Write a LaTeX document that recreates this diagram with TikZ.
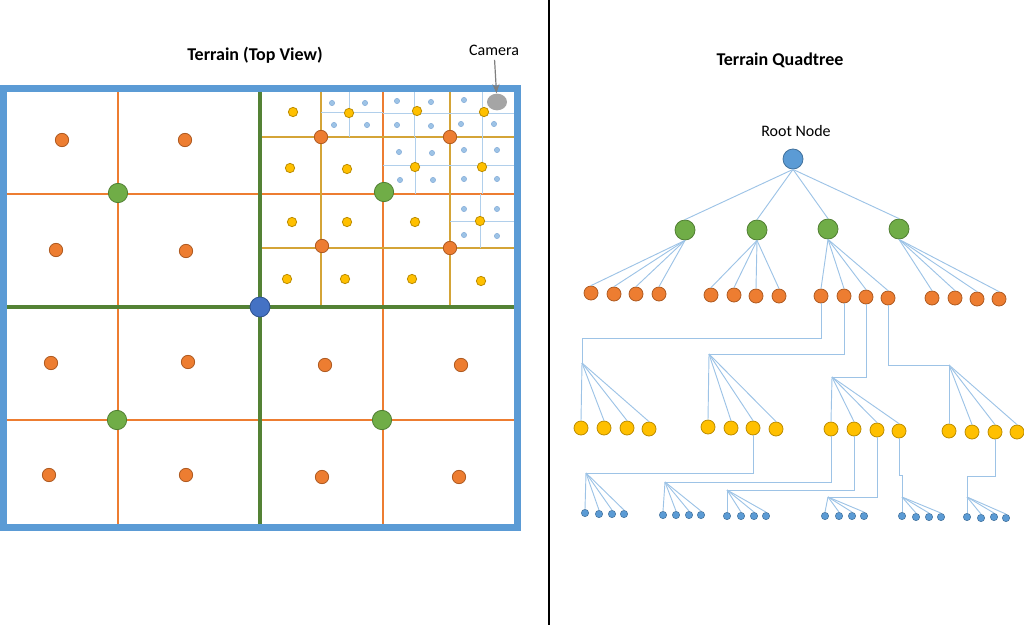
\documentclass[tikz,border=0pt]{standalone}
\usepackage{fontspec}
\setmainfont{Carlito}
\usetikzlibrary{
    arrows.meta,
    positioning,
    shapes.geometric
}
\definecolor{edgeblue}{HTML}{5B9BD5}
\definecolor{rootblue}{HTML}{5B9BD5}
\definecolor{rootline}{HTML}{41719C}
\definecolor{centreblue}{HTML}{4472C4}
\definecolor{centreline}{HTML}{2F528F}
\definecolor{leafgreen}{HTML}{70AD47}
\definecolor{leafline}{HTML}{507E32}
\definecolor{splitgreen}{HTML}{548235}
\definecolor{chunkorange}{HTML}{ED7D31}
\definecolor{chunkline}{HTML}{AE5A21}
\definecolor{tileyellow}{HTML}{FFC000}
\definecolor{tileline}{HTML}{BC8C00}
\definecolor{gridyellow}{HTML}{D4A437}
\definecolor{paleblue}{HTML}{9DC3E6}
\definecolor{paleline}{HTML}{7FA8D6}
\definecolor{camgrey}{HTML}{A5A5A5}
\definecolor{camline}{HTML}{7F7F7F}
\tikzset{
    every picture/.style = {
        > = Stealth
    },
    dot/.style = {
        circle,
        inner sep = 0pt,
        line width = 0.6pt
    },
    rootdot/.style    = {dot, fill = rootblue, draw = rootline, minimum size = 15pt},
    centredot/.style  = {dot, fill = centreblue, draw = centreline, minimum size = 15pt},
    greendot/.style   = {dot, fill = leafgreen, draw = leafline, minimum size = #1},
    greendot/.default = 14.5pt,
    orangedot/.style  = {dot, fill = chunkorange, draw = chunkline, minimum size = #1},
    orangedot/.default = 10pt,
    yellowdot/.style  = {dot, fill = tileyellow, draw = tileline, minimum size = #1},
    yellowdot/.default = 7pt,
    smalldot/.style   = {dot, fill = paleblue, draw = paleline, line width = 0.3pt, minimum size = 4pt},
    leafdot/.style    = {dot, fill = rootblue, draw = rootline, line width = 0.4pt, minimum size = 5.5pt},
    title/.style = {font = \bfseries\fontsize{13.5}{16}\selectfont},
    label text/.style = {font = \fontsize{12}{14}\selectfont},
    treeedge/.style = {draw = paleblue, line width = 0.7pt},
    orangeline/.style = {draw = chunkorange, line width = 1.1pt},
    yellowline/.style = {draw = gridyellow, line width = 0.9pt},
    paleline/.style = {draw = paleblue!80, line width = 0.75pt}
}

\begin{document}
\begin{tikzpicture}[x = 0.75pt, y = -0.75pt]
    \useasboundingbox (0,0) rectangle (1024,625);

    % terrain, top view
    \node[title] (terraintitle) at (255,55) {Terrain (Top View)};
    \draw[orangeline] (4,194) -- (517,194);
    \draw[orangeline] (4,420) -- (517,420);
    \draw[orangeline] (118,89) -- (118,527);
    \draw[orangeline] (383,89) -- (383,527);
    \draw[yellowline] (321,89) -- (321,307);
    \draw[yellowline] (450,89) -- (450,307);
    \draw[yellowline] (260,137) -- (517,137);
    \draw[yellowline] (260,248) -- (517,248);
    \draw[paleline] (321,112) -- (383,112);
    \draw[paleline] (349,89) -- (349,137);
    \draw[paleline] (383,113) -- (517,113);
    \draw[paleline] (414,89) -- (414,137);
    \draw[paleline] (482,89) -- (482,137);
    \draw[paleline] (383,165) -- (517,165);
    \draw[paleline] (415,137) -- (415,194);
    \draw[paleline] (482,137) -- (482,194);
    \draw[paleline] (450,221) -- (517,221);
    \draw[paleline] (480,194) -- (480,248);
    \draw[draw = splitgreen, line width = 3pt] (4,307) -- (517,307);
    \draw[draw = splitgreen, line width = 3pt] (260,89) -- (260,527);
    \draw[draw = edgeblue, line width = 5.25pt] (3.5,88.5) rectangle (517,527.5);

    \foreach \x/\y [count = \i] in {332/103, 365/103, 334/125, 367/125,
        397/101, 431/102, 397/125, 431/126, 464/100, 461/124, 494/124,
        399/152, 432/153, 400/180, 433/180, 464/150, 497/150, 464/179, 497/179,
        464/209, 497/209, 464/235, 497/236}
        \node[smalldot] (s\i) at (\x,\y) {};
    \foreach \x/\y [count = \i] in {293/112, 349/113, 417/111, 484/112,
        290/168, 347/169, 415/167, 482/167, 292/222, 347/222, 415/222, 480/221,
        287/279, 345/279, 412/279, 481/281}
        \node[yellowdot] (t\i) at (\x,\y) {};
    \foreach \x/\y [count = \i] in {62/140, 185/140, 56/250, 186/251,
        51/363, 188/362, 325/365, 461/365, 49/475, 186/475, 322/477, 459/477,
        321/137, 450/137, 322/246, 450/248}
        \node[orangedot] (c\i) at (\x,\y) {};
    \node[greendot] (q1) at (118,193) {};
    \node[greendot] (q2) at (384,192) {};
    \node[greendot] (q3) at (117,420) {};
    \node[greendot] (q4) at (382,420) {};
    \node[centredot] (centre) at (260,307) {};

    % camera
    \node[ellipse, fill = camgrey, minimum width = 15pt, minimum height = 12.5pt,
        inner sep = 0pt] (camera) at (497,102) {};
    \node[label text] (cameralabel) at (494,50) {Camera};
    \draw[->, draw = camline, line width = 0.9pt] (cameralabel) -- (camera);

    % divider
    \draw[line width = 1.9pt] (549,0) -- (549,625);

    % quadtree
    \node[title] (treetitle) at (780,60) {Terrain Quadtree};
    \node[label text] (rootlabel) at (796,131) {Root Node};
    \node[rootdot] (root) at (793,159) {};
    \node[greendot = 15pt] (g1) at (685,230) {};
    \node[greendot = 15pt] (g2) at (757,230) {};
    \node[greendot = 15pt] (g3) at (828,229) {};
    \node[greendot = 15pt] (g4) at (899,229) {};
    \foreach \n/\x/\y in {o11/591/293, o12/614/294, o13/636/294, o14/659/294,
        o21/711/295, o22/734/295, o23/756/296, o24/779/296,
        o31/821/296, o32/844/296, o33/866/297, o34/888/298,
        o41/932/298, o42/955/298, o43/977/299, o44/999/299}
        \node[orangedot = 10.5pt] (\n) at (\x,\y) {};
    \foreach \n/\x/\y in {y11/581/428, y12/604/428, y13/627/428, y14/649/429,
        y21/708/427, y22/731/428, y23/753/428, y24/776/429,
        y31/831/429, y32/854/429, y33/877/430, y34/899/431,
        y41/949/431, y42/972/432, y43/995/432, y44/1017/432}
        \node[yellowdot = 10.5pt] (\n) at (\x,\y) {};
    \foreach \n/\x/\y in {b11/585/513, b12/599/514, b13/612/514, b14/624/514,
        b21/663/515, b22/676/515, b23/689/515, b24/701/515,
        b31/727/516, b32/741/516, b33/754/516, b34/766/516,
        b41/825/516, b42/839/516, b43/852/516, b44/864/516,
        b51/902/516, b52/916/517, b53/929/517, b54/941/517,
        b61/967/517, b62/981/518, b63/994/517, b64/1006/518}
        \node[leafdot] (\n) at (\x,\y) {};

    \coordinate (e1) at (582,338);
    \coordinate (f1) at (582,363);
    \coordinate (f2) at (709,354);
    \coordinate (f3) at (832,377);
    \coordinate (f4) at (949,365);
    \coordinate (f5) at (586,473);
    \coordinate (f6) at (665,482);
    \coordinate (f7) at (727,490);
    \coordinate (f8) at (828,497);
    \coordinate (e9) at (902,475);
    \coordinate (f9) at (902,497);
    \coordinate (e10) at (967,476);
    \coordinate (f10) at (967,497);

    \foreach \g in {1,...,4}
        \draw[treeedge] (root.south) -- (g\g.north);
    \foreach \g in {1,...,4}
        \foreach \j in {1,...,4}
            \draw[treeedge] (g\g.south) -- (o\g\j.north);
    \draw[treeedge] (o31) |- (e1) -- (f1);
    \draw[treeedge] (o32) |- (f2);
    \draw[treeedge] (o33) |- (f3);
    \draw[treeedge] (o34) |- (f4);
    \foreach \g in {1,...,4}
        \foreach \j in {1,...,4}
            \draw[treeedge] (f\g) -- (y\g\j.north);
    \draw[treeedge] (y23) |- (f5);
    \draw[treeedge] (y31) |- (f6);
    \draw[treeedge] (y32) |- (f7);
    \draw[treeedge] (y33) |- (f8);
    \draw[treeedge] (y34) |- (e9) -- (f9);
    \draw[treeedge] (y43) |- (e10) -- (f10);
    \foreach \g [evaluate = \g as \f using int(\g + 4)] in {1,...,6}
        \foreach \j in {1,...,4}
            \draw[treeedge] (f\f) -- (b\g\j.north);
\end{tikzpicture}
\end{document}
